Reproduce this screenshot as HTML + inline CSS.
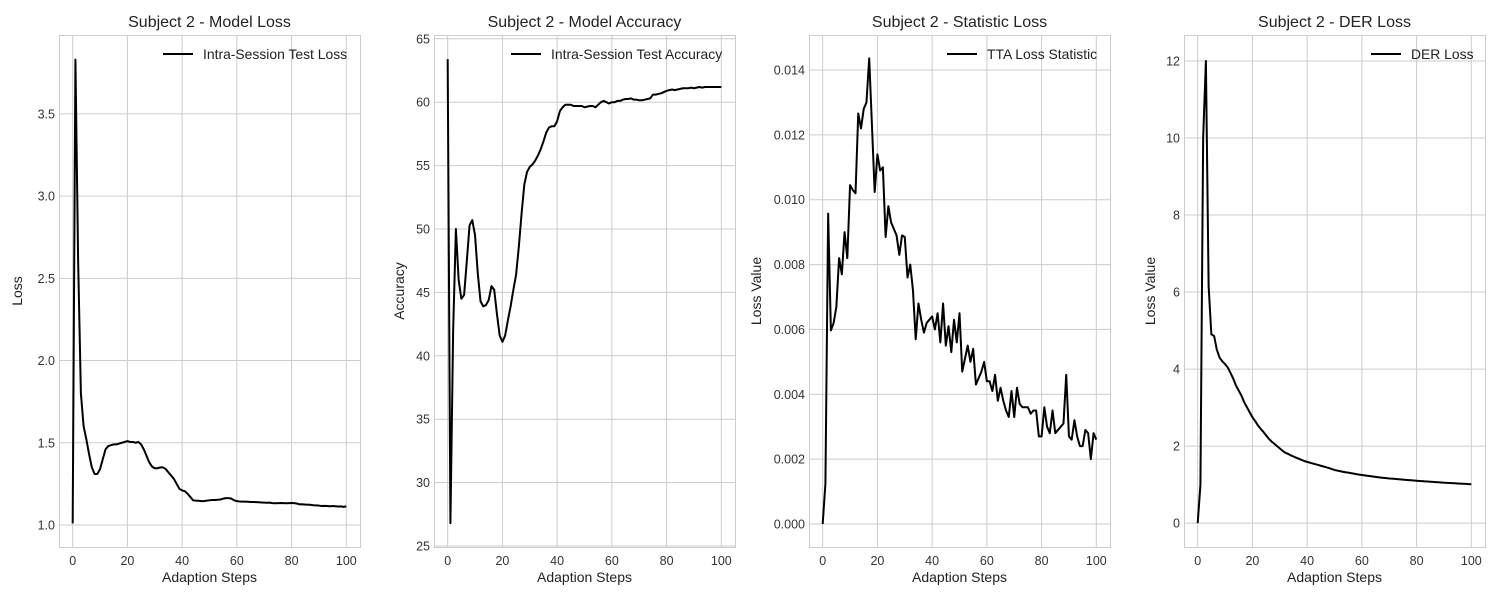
<!DOCTYPE html>
<html><head><meta charset="utf-8"><style>
body{margin:0;background:#fff;}
svg{display:block;font-family:"Liberation Sans",sans-serif;}
</style></head><body>
<svg id="fig" width="1500" height="600" viewBox="0 0 1500 600" xmlns="http://www.w3.org/2000/svg"></svg>
<script>
const steps = Array.from({length:101},(_,i)=>i);
const lossValues = [1.01,3.83,2.6,1.8,1.6,1.52,1.43,1.35,1.31,1.31,1.34,1.4,1.46,1.48,1.485,1.49,1.49,1.495,1.5,1.505,1.51,1.505,1.505,1.5,1.505,1.49,1.46,1.42,1.38,1.355,1.345,1.345,1.35,1.35,1.34,1.32,1.3,1.28,1.25,1.22,1.21,1.205,1.19,1.17,1.15,1.148,1.147,1.145,1.145,1.148,1.15,1.152,1.152,1.153,1.155,1.16,1.163,1.163,1.16,1.15,1.145,1.143,1.142,1.142,1.141,1.14,1.14,1.139,1.138,1.137,1.136,1.135,1.136,1.133,1.132,1.133,1.134,1.133,1.132,1.133,1.134,1.133,1.13,1.125,1.126,1.124,1.124,1.122,1.12,1.119,1.118,1.115,1.116,1.115,1.114,1.115,1.114,1.112,1.113,1.11,1.113];
const accValues = [63.4,26.8,42,50,46,44.5,44.8,47.5,50.3,50.7,49.5,46.5,44.3,43.9,44.0,44.4,45.5,45.2,43.3,41.6,41.1,41.6,42.8,43.9,45.2,46.4,48.6,51.2,53.5,54.5,54.9,55.1,55.4,55.8,56.3,56.9,57.6,58.0,58.1,58.1,58.5,59.3,59.6,59.8,59.8,59.8,59.7,59.7,59.7,59.7,59.6,59.65,59.7,59.7,59.6,59.8,60.0,60.1,60.0,59.9,60.0,60.0,60.1,60.1,60.2,60.25,60.25,60.3,60.2,60.2,60.15,60.15,60.2,60.25,60.3,60.6,60.6,60.65,60.7,60.8,60.9,60.95,61.0,60.95,61.0,61.05,61.1,61.1,61.1,61.15,61.1,61.15,61.2,61.15,61.2,61.2,61.2,61.2,61.2,61.2,61.2];
const ttaValues = [0,0.00124,0.00957,0.00597,0.0062,0.0067,0.0082,0.0077,0.009,0.0082,0.01045,0.0103,0.0102,0.01266,0.0122,0.0128,0.013,0.01436,0.0123,0.01024,0.0114,0.0109,0.011,0.00885,0.0098,0.0093,0.0091,0.0089,0.0083,0.0089,0.00885,0.0076,0.008,0.0072,0.0057,0.0068,0.0063,0.0059,0.0062,0.0063,0.0064,0.006,0.0065,0.0056,0.0068,0.0055,0.0061,0.0053,0.0063,0.0056,0.0065,0.0047,0.0051,0.0055,0.005,0.0054,0.0043,0.0045,0.0047,0.005,0.0044,0.0044,0.0041,0.0046,0.0038,0.0042,0.0038,0.0035,0.0033,0.0041,0.0033,0.0042,0.0037,0.0036,0.0036,0.0036,0.0034,0.0035,0.0035,0.0027,0.0027,0.0036,0.003,0.0028,0.0035,0.0028,0.0029,0.003,0.0031,0.0046,0.0027,0.0026,0.0032,0.0027,0.0024,0.0024,0.0029,0.0028,0.002,0.0028,0.0026];
const derValues = [0,0.99,10.0,12.0,6.15,4.9,4.86,4.5,4.3,4.2,4.13,4.04,3.9,3.75,3.57,3.44,3.31,3.14,3.01,2.88,2.75,2.65,2.54,2.45,2.37,2.28,2.19,2.12,2.06,2.0,1.94,1.88,1.83,1.8,1.76,1.73,1.7,1.67,1.64,1.61,1.59,1.57,1.55,1.53,1.51,1.49,1.47,1.45,1.43,1.405,1.38,1.365,1.35,1.335,1.32,1.31,1.298,1.285,1.272,1.26,1.25,1.24,1.23,1.22,1.21,1.2,1.19,1.183,1.176,1.168,1.16,1.154,1.148,1.142,1.136,1.13,1.124,1.118,1.112,1.106,1.1,1.095,1.09,1.085,1.08,1.075,1.07,1.065,1.06,1.055,1.05,1.046,1.042,1.038,1.034,1.03,1.026,1.022,1.018,1.014,1.01];
const xTicks = [0,20,40,60,80,100];
const lossTicks = [1.0,1.5,2.0,2.5,3.0,3.5];
const accTicks = [25,30,35,40,45,50,55,60,65];
const ttaTicks = [0,0.002,0.004,0.006,0.008,0.010,0.012,0.014];
const derTicks = [0,2,4,6,8,10,12];

const NS="http://www.w3.org/2000/svg";
const fig=document.getElementById('fig');
function mk(tag,attrs,parent){const e=document.createElementNS(NS,tag);for(const k in attrs)e.setAttribute(k,attrs[k]);parent.appendChild(e);return e;}

const panels=[
 {left:59,title:"Subject 2 - Model Loss",ylabel:"Loss",legend:"Intra-Session Test Loss",vals:lossValues,ticks:lossTicks,ymin:0.866,ymax:3.98,fmt:v=>v.toFixed(1),legX:163,ylabX:17,key:"loss"},
 {left:434,title:"Subject 2 - Model Accuracy",ylabel:"Accuracy",legend:"Intra-Session Test Accuracy",vals:accValues,ticks:accTicks,ymin:24.92,ymax:65.3,fmt:v=>String(v),legX:511,ylabX:399,key:"accuracy"},
 {left:809,title:"Subject 2 - Statistic Loss",ylabel:"Loss Value",legend:"TTA Loss Statistic",vals:ttaValues,ticks:ttaTicks,ymin:-0.00071,ymax:0.01508,fmt:v=>v.toFixed(3),legX:947,ylabX:756,key:"statistic"},
 {left:1184,title:"Subject 2 - DER Loss",ylabel:"Loss Value",legend:"DER Loss",vals:derValues,ticks:derTicks,ymin:-0.62,ymax:12.675,fmt:v=>String(v),legX:1371,ylabX:1150,key:"der"}
];
const TOP=35,BOT=547,W=301;
panels.forEach(p=>{
 const g=mk('g',{},fig);
 
 
 const xs=v=>p.left+(v+5)/110*W;
 const ys=v=>BOT-(v-p.ymin)/(p.ymax-p.ymin)*(BOT-TOP);
 xTicks.forEach(t=>{
  const l=mk('line',{x1:xs(t),x2:xs(t),y1:TOP,y2:BOT,stroke:'#cccccc','stroke-width':1},g);
  
  
  const tx=mk('text',{x:xs(t),y:565,'text-anchor':'middle','font-size':12.5,fill:'#333'},g);
  
  
  tx.textContent=t;
 });
 p.ticks.forEach(t=>{
  const l=mk('line',{x1:p.left,x2:p.left+W,y1:ys(t),y2:ys(t),stroke:'#cccccc','stroke-width':1},g);
  
  
  const tx=mk('text',{x:p.left-4,y:ys(t)+4.5,'text-anchor':'end','font-size':12.5,fill:'#333'},g);
  
  
  tx.textContent=p.fmt(t);
 });
 const fr=mk('rect',{x:p.left+0.5,y:TOP+0.5,width:W,height:BOT-TOP,fill:'none',stroke:'#cccccc','stroke-width':1},g);
 
 
 const d=steps.map((s,i)=>(i?'L':'M')+xs(s).toFixed(2)+','+ys(p.vals[i]).toFixed(2)).join('');
 const path=mk('path',{d:d,fill:'none',stroke:'#000','stroke-width':2,'stroke-linejoin':'round'},g);
 
 
 const ti=mk('text',{x:p.left+W/2,y:27,'text-anchor':'middle','font-size':16,fill:'#222'},g);
 
 
 ti.textContent=p.title;
 const xl=mk('text',{x:p.left+W/2,y:582,'text-anchor':'middle','font-size':14,fill:'#222'},g);
 
 
 xl.textContent='Adaption Steps';
 const yl=mk('text',{x:p.ylabX+5,y:(TOP+BOT)/2,'text-anchor':'middle','font-size':14,fill:'#222',transform:`rotate(-90 ${p.ylabX+5} ${(TOP+BOT)/2})`},g);
 
 
 yl.textContent=p.ylabel;
 const lg=mk('g',{},g);
 
 
 mk('line',{x1:p.legX,x2:p.legX+30,y1:54,y2:54,stroke:'#000','stroke-width':2},lg);
 const lt=mk('text',{x:p.legX+40,y:59,'font-size':13.9,fill:'#222'},lg);
 lt.textContent=p.legend;
});
</script>
</body></html>
